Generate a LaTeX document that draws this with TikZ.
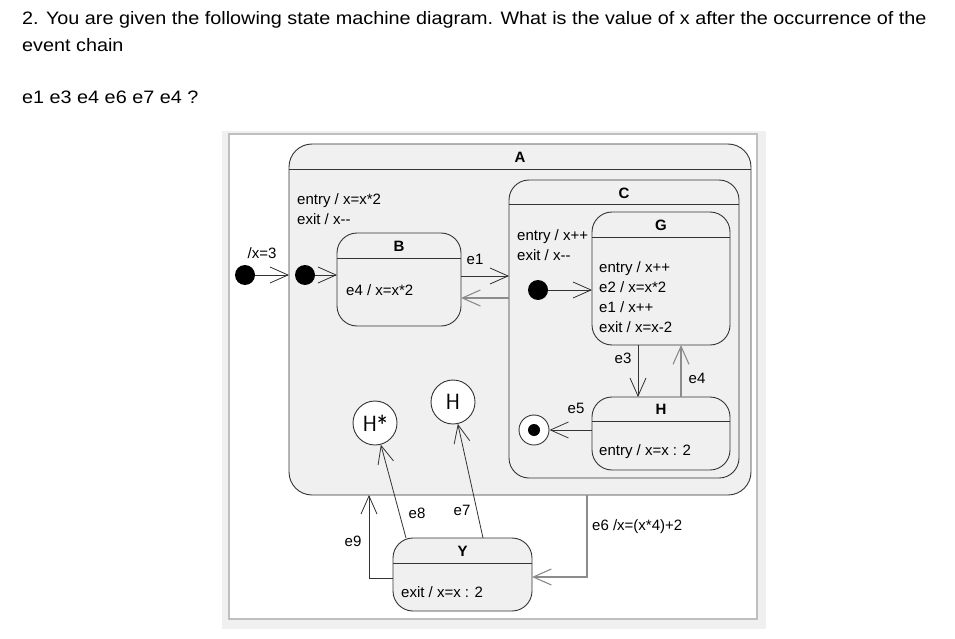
\documentclass[tikz,border=0pt]{standalone}
\usepackage{fontspec}
\setmainfont{Liberation Sans}
\newfontfamily\qfont[FakeStretch=1.1]{Liberation Sans}
\usetikzlibrary{arrows.meta,positioning}

\tikzset{
  state/.style={draw=black!80, fill=gray!12, rounded corners=20pt, line width=0.9pt, inner sep=0pt, outer sep=0pt},
  stname/.style={font=\fontsize{15}{15}\selectfont\bfseries, inner sep=0pt},
  act/.style={font=\fontsize{15}{20}\selectfont, align=left, anchor=west, inner sep=0pt},
  lbl/.style={font=\fontsize{15}{15}\selectfont, inner sep=0pt},
  qtext/.style={anchor=base west, inner sep=0pt, font=\qfont\fontsize{18}{18}\selectfont},
  dot/.style={circle, fill=black, minimum size=20pt, inner sep=0pt},
  hist/.style={circle, draw=black!80, fill=white, minimum size=44pt, inner sep=0pt, line width=0.9pt, font=\sffamily\fontsize{22}{22}\selectfont},
  tr/.style={-{Straight Barb[length=18pt,width=16pt]}, line width=0.8pt, draw=black!80},
  trg/.style={tr, draw=gray!90, line width=1.1pt},
}

\begin{document}
\begin{tikzpicture}[x=1pt, y=-1pt]
\useasboundingbox (0,0) rectangle (955,639);

% question
\node[qtext] (q1) at (22,25) {2. You are given the following state machine diagram. What is the value of x after the occurrence of the};
\node[qtext] (q2) at (22,52) {event chain};
\node[qtext] (q3) at (22,104) {e1 e3 e4 e6 e7 e4 ?};

% panel
\fill[gray!12] (222,131) rectangle (766,629);
\draw[fill=white, draw=gray!50, line width=1.2pt] (229,134) rectangle (757,619);

% states
\node[state, rounded corners=23pt, minimum width=462pt, minimum height=351pt] (A) at (520,319.5) {};
\node[state, minimum width=230pt, minimum height=298pt] (C) at (624,329) {};
\node[state, minimum width=138pt, minimum height=133pt] (G) at (661,278.5) {};
\node[state, minimum width=138pt, minimum height=73pt] (H) at (661,433.5) {};
\node[state, minimum width=124pt, minimum height=93pt] (B) at (399,279.5) {};
\node[state, minimum width=139pt, minimum height=73pt] (Y) at (462.5,574.5) {};

\foreach \s/\d in {A/25, C/24, G/25, H/24, B/25, Y/25}
  \draw[draw=black!80, line width=0.9pt] ([yshift=-\d pt]\s.north west) -- ([yshift=-\d pt]\s.north east);

\node[stname] (Aname) at ([yshift=-13pt]A.north) {A};
\node[stname] (Cname) at ([yshift=-13pt]C.north) {C};
\node[stname] (Gname) at ([yshift=-13pt]G.north) {G};
\node[stname] (Hname) at ([yshift=-12pt]H.north) {H};
\node[stname] (Bname) at ([yshift=-13pt]B.north) {B};
\node[stname] (Yname) at ([yshift=-13pt]Y.north) {Y};

% internal activities
\node[act] (Aact) at (297,209.5) {entry / x=x*2\\exit / x-{}-};
\node[act] (Cact) at (517,245) {entry / x++\\exit / x-{}-};
\node[act] (Gact) at (599,297.5) {entry / x++\\e2 / x=x*2\\e1 / x++\\exit / x=x-2};
\node[act] (Bact) at (346,290) {e4 / x=x*2};
\node[act] (Hact) at (599,452) {entry / x=x : 2};
\node[act] (Yact) at (401,592) {exit / x=x : 2};

% pseudo states
\node[dot] (i0) at (245,275) {};
\node[dot] (i1) at (305,275) {};
\node[dot] (i2) at (538,290) {};
\node[circle, draw=black!80, fill=white, minimum size=30pt, inner sep=0pt, line width=0.9pt] (fin) at (534,430) {};
\node[dot, minimum size=12pt] (finDot) at (fin) {};
\node[hist] (hs) at (375,423) {H*};
\node[hist] (hh) at (453,402) {H};

% transitions
\draw[tr] (i0) -- (i0 -| A.west);
\draw[tr] (i1) -- (i1 -| B.west);
\draw[tr] (i2) -- (i2 -| G.west);
\draw[tr] ([yshift=3.5pt]B.east) -- ([yshift=3.5pt]B.east -| C.west);
\draw[trg] ([yshift=-18.5pt]B.east -| C.west) -- ([yshift=-18.5pt]B.east);
\draw[tr] ([xshift=-23pt]G.south) -- ([xshift=-23pt]H.north);
\draw[trg] ([xshift=20pt]H.north) -- ([xshift=20pt]G.south);
\draw[tr] (H.west |- fin) -- (fin);
\draw[trg] ([xshift=67pt]A.south) |- ([yshift=-2.5pt]Y.east);
\draw[tr] ([xshift=20.5pt]Y.north) -- (hh);
\draw[tr] ([xshift=-56.5pt]Y.north) -- (hs);
\draw[tr] ([yshift=-3.5pt]Y.west) -| ([xshift=-151pt]A.south);

% transition labels
\node[lbl] (x3lbl) at (262,253) {/x=3};
\node[lbl] (e1lbl) at (475,259) {e1};
\node[lbl] (e3lbl) at (623,358) {e3};
\node[lbl] (e4lbl) at (697,378) {e4};
\node[lbl] (e5lbl) at (576,408) {e5};
\node[lbl, anchor=west] (e6lbl) at (592,527) {e6 /x=(x*4)+2};
\node[lbl] (e7lbl) at (462,510) {e7};
\node[lbl] (e8lbl) at (417,513) {e8};
\node[lbl] (e9lbl) at (353,541) {e9};

\end{tikzpicture}
\end{document}
